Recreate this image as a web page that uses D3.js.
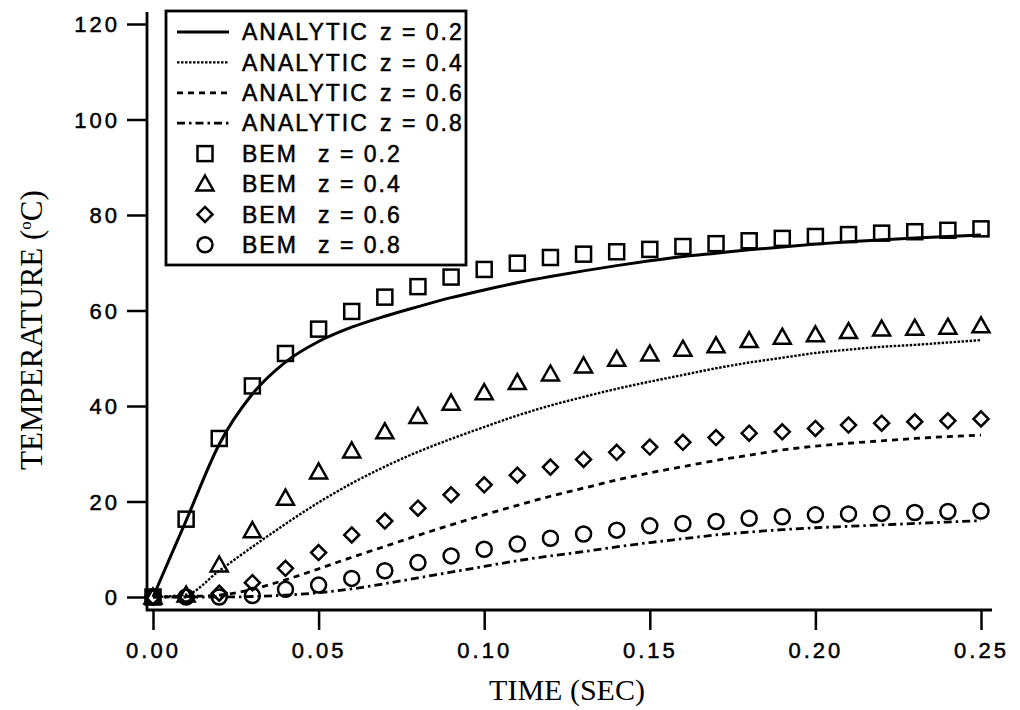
<!DOCTYPE html>
<html><head><meta charset="utf-8">
<script src="https://cdn.jsdelivr.net/npm/d3@7/dist/d3.min.js"></script>
<style>body{margin:0;background:#fff}</style>
</head><body>
<svg id="c" width="1020" height="710"></svg>
<script>
// ---- data ----
const timeSec = [0.00,0.01,0.02,0.03,0.04,0.05,0.06,0.07,0.08,0.09,0.10,0.11,0.12,0.13,0.14,0.15,0.16,0.17,0.18,0.19,0.20,0.21,0.22,0.23,0.24,0.25];
const xTicks = [0.00,0.05,0.10,0.15,0.20,0.25];
const yTicks = [0,20,40,60,80,100,120];

const analytic02 = [0,16.0,32.0,42.5,49.2,53.5,56.5,58.8,60.8,62.7,64.3,65.8,67.1,68.3,69.4,70.4,71.3,72.0,72.7,73.3,73.9,74.4,74.8,75.2,75.5,75.8];
const analytic04 = [0,0.5,5.5,10.5,15.3,19.8,23.8,27.3,30.4,33.1,35.6,38.0,40.1,41.9,43.6,45.1,46.5,47.9,49.1,50.1,51.1,51.8,52.4,52.8,53.3,53.8];
const analytic06 = [0,0.1,0.4,1.6,3.6,5.9,8.3,10.6,12.9,15.1,17.2,19.2,21.1,22.8,24.5,26.0,27.3,28.6,29.7,30.8,31.6,32.2,32.7,33.2,33.6,33.9];
const analytic08 = [0,0,0,0.1,0.4,0.9,1.7,2.8,4.0,5.2,6.4,7.6,8.6,9.5,10.5,11.4,12.2,13.0,13.6,14.1,14.5,14.8,15.1,15.4,15.7,16.0];

const bem02 = [0,16.3,33.2,44.2,51.0,56.1,59.8,62.8,65.0,67.0,68.6,69.9,71.1,71.8,72.3,72.8,73.4,74.0,74.6,75.1,75.5,75.9,76.2,76.5,76.8,77.1];
const bem04 = [0,0.4,6.7,13.9,20.7,26.2,30.6,34.6,37.8,40.6,42.8,44.9,46.7,48.4,49.8,50.9,51.9,52.6,53.7,54.4,54.9,55.6,56.1,56.3,56.5,56.8];
const bem06 = [0,0.2,0.8,3.0,6.0,9.3,13.0,15.9,18.6,21.4,23.5,25.5,27.2,28.8,30.3,31.4,32.4,33.4,34.3,34.6,35.3,36.0,36.4,36.7,36.9,37.3];
const bem08 = [0,0,0,0.3,1.6,2.5,3.9,5.5,7.2,8.6,10.0,11.1,12.3,13.2,14.0,14.9,15.4,15.8,16.5,16.8,17.2,17.4,17.5,17.7,17.9,18.0];

const zLabels = ["z = 0.2","z = 0.4","z = 0.6","z = 0.8"];
const xTitle = "TIME (SEC)";
const yTitle = "TEMPERATURE (";

// ---- layout ----
const svg = d3.select("#c");
const x = d3.scaleLinear().domain([0,0.25]).range([153,981]);
const y = d3.scaleLinear().domain([0,120]).range([597,24]);
const axL = 147, axB = 610;
const sans = "'Liberation Sans', Arial, Helvetica, sans-serif";
const serif = "'Liberation Serif', 'Times New Roman', serif";

const lineStyles = [
  {dash:null, w:3},
  {dash:"2.5,1.5", w:2.4},
  {dash:"6,5", w:2.8},
  {dash:"8,4,2.5,4", w:2.8}
];
const analytic = [analytic02, analytic04, analytic06, analytic08];
const bem = [bem02, bem04, bem06, bem08];
const shapes = ["square","triangle","diamond","circle"];

// axes
const gy = svg.append("g").attr("transform",`translate(${axL},0)`)
  .call(d3.axisLeft(y).tickValues(yTicks).tickSize(20).tickPadding(7).tickFormat(d3.format("d")));
const gx = svg.append("g").attr("transform",`translate(0,${axB})`)
  .call(d3.axisBottom(x).tickValues(xTicks).tickSize(20).tickPadding(10).tickFormat(d3.format(".2f")));
[gx,gy].forEach(g=>{
  g.select(".domain").remove();
  g.selectAll(".tick line").attr("stroke","#000").attr("stroke-width",2.5);
  g.selectAll(".tick text").attr("fill","#000").attr("stroke","#000").attr("stroke-width",0.5)
   .style("font-family",sans).style("font-size","22px").style("letter-spacing","3px");
});
gy.selectAll(".tick text").attr("dy","0.36em");
gx.selectAll(".tick text").attr("dy","0.8em");
// frame lines
svg.append("line").attr("x1",axL).attr("x2",axL).attr("y1",12).attr("y2",axB+1)
  .attr("stroke","#000").attr("stroke-width",2.8);
svg.append("line").attr("x1",axL-1).attr("x2",992).attr("y1",axB).attr("y2",axB)
  .attr("stroke","#000").attr("stroke-width",3);

// analytic lines
const lineGen = d3.line().x((d,i)=>x(timeSec[i])).y(d=>y(d)).curve(d3.curveMonotoneX);
analytic.forEach((s,k)=>{
  svg.append("path").datum(s).attr("d",lineGen).attr("fill","none")
    .attr("stroke","#000").attr("stroke-width",lineStyles[k].w)
    .attr("stroke-dasharray",lineStyles[k].dash);
});

// markers
function marker(g, shape, cx, cy){
  if(shape==="square"){
    g.append("rect").attr("x",cx-7.5).attr("y",cy-7.5).attr("width",15).attr("height",15);
  } else if(shape==="triangle"){
    g.append("path").attr("d",`M${cx},${cy-8.5}L${cx+8.5},${cy+6.5}L${cx-8.5},${cy+6.5}Z`);
  } else if(shape==="diamond"){
    g.append("path").attr("d",`M${cx},${cy-7.5}L${cx+7.5},${cy}L${cx},${cy+7.5}L${cx-7.5},${cy}Z`);
  } else {
    g.append("circle").attr("cx",cx).attr("cy",cy).attr("r",7.5);
  }
}
bem.forEach((s,k)=>{
  const g = svg.append("g").attr("fill","none").attr("stroke","#000").attr("stroke-width",2.5);
  s.forEach((v,i)=>marker(g, shapes[k], x(timeSec[i]), y(v)));
});

// legend
const leg = svg.append("g");
leg.append("rect").attr("x",166).attr("y",11).attr("width",300).attr("height",254)
  .attr("fill","#fff").attr("stroke","#000").attr("stroke-width",2.8);
const rowY = i => 32 + i*30.4;
const tstyle = s => s.attr("fill","#000").attr("stroke","#000").attr("stroke-width",0.5)
  .style("font-family",sans).style("font-size","23px").style("letter-spacing","2px");
zLabels.forEach((lab,k)=>{
  leg.append("line").attr("x1",177).attr("x2",229).attr("y1",rowY(k)).attr("y2",rowY(k))
    .attr("stroke","#000").attr("stroke-width",lineStyles[k].w).attr("stroke-dasharray",lineStyles[k].dash);
  tstyle(leg.append("text").attr("x",242).attr("y",rowY(k)).attr("dy","0.36em").text("ANALYTIC"));
  tstyle(leg.append("text").attr("x",380).attr("y",rowY(k)).attr("dy","0.36em").text(lab));
});
zLabels.forEach((lab,k)=>{
  const g = leg.append("g").attr("fill","none").attr("stroke","#000").attr("stroke-width",2.5);
  marker(g, shapes[k], 205, rowY(k+4));
  tstyle(leg.append("text").attr("x",242).attr("y",rowY(k+4)).attr("dy","0.36em").text("BEM"));
  tstyle(leg.append("text").attr("x",318).attr("y",rowY(k+4)).attr("dy","0.36em").text(lab));
});

// titles
svg.append("text").attr("x",567).attr("y",700).attr("text-anchor","middle")
  .attr("fill","#000").style("font-family",serif).style("font-size","30px").text(xTitle);
const yt = svg.append("text").attr("transform","translate(42,330) rotate(-90)")
  .attr("text-anchor","middle").attr("fill","#000")
  .style("font-family",serif).style("font-size","31px");
yt.append("tspan").text(yTitle);
yt.append("tspan").attr("dy","-11").style("font-size","17px").text("o");
yt.append("tspan").attr("dy","11").text("C)");
</script>
</body></html>
